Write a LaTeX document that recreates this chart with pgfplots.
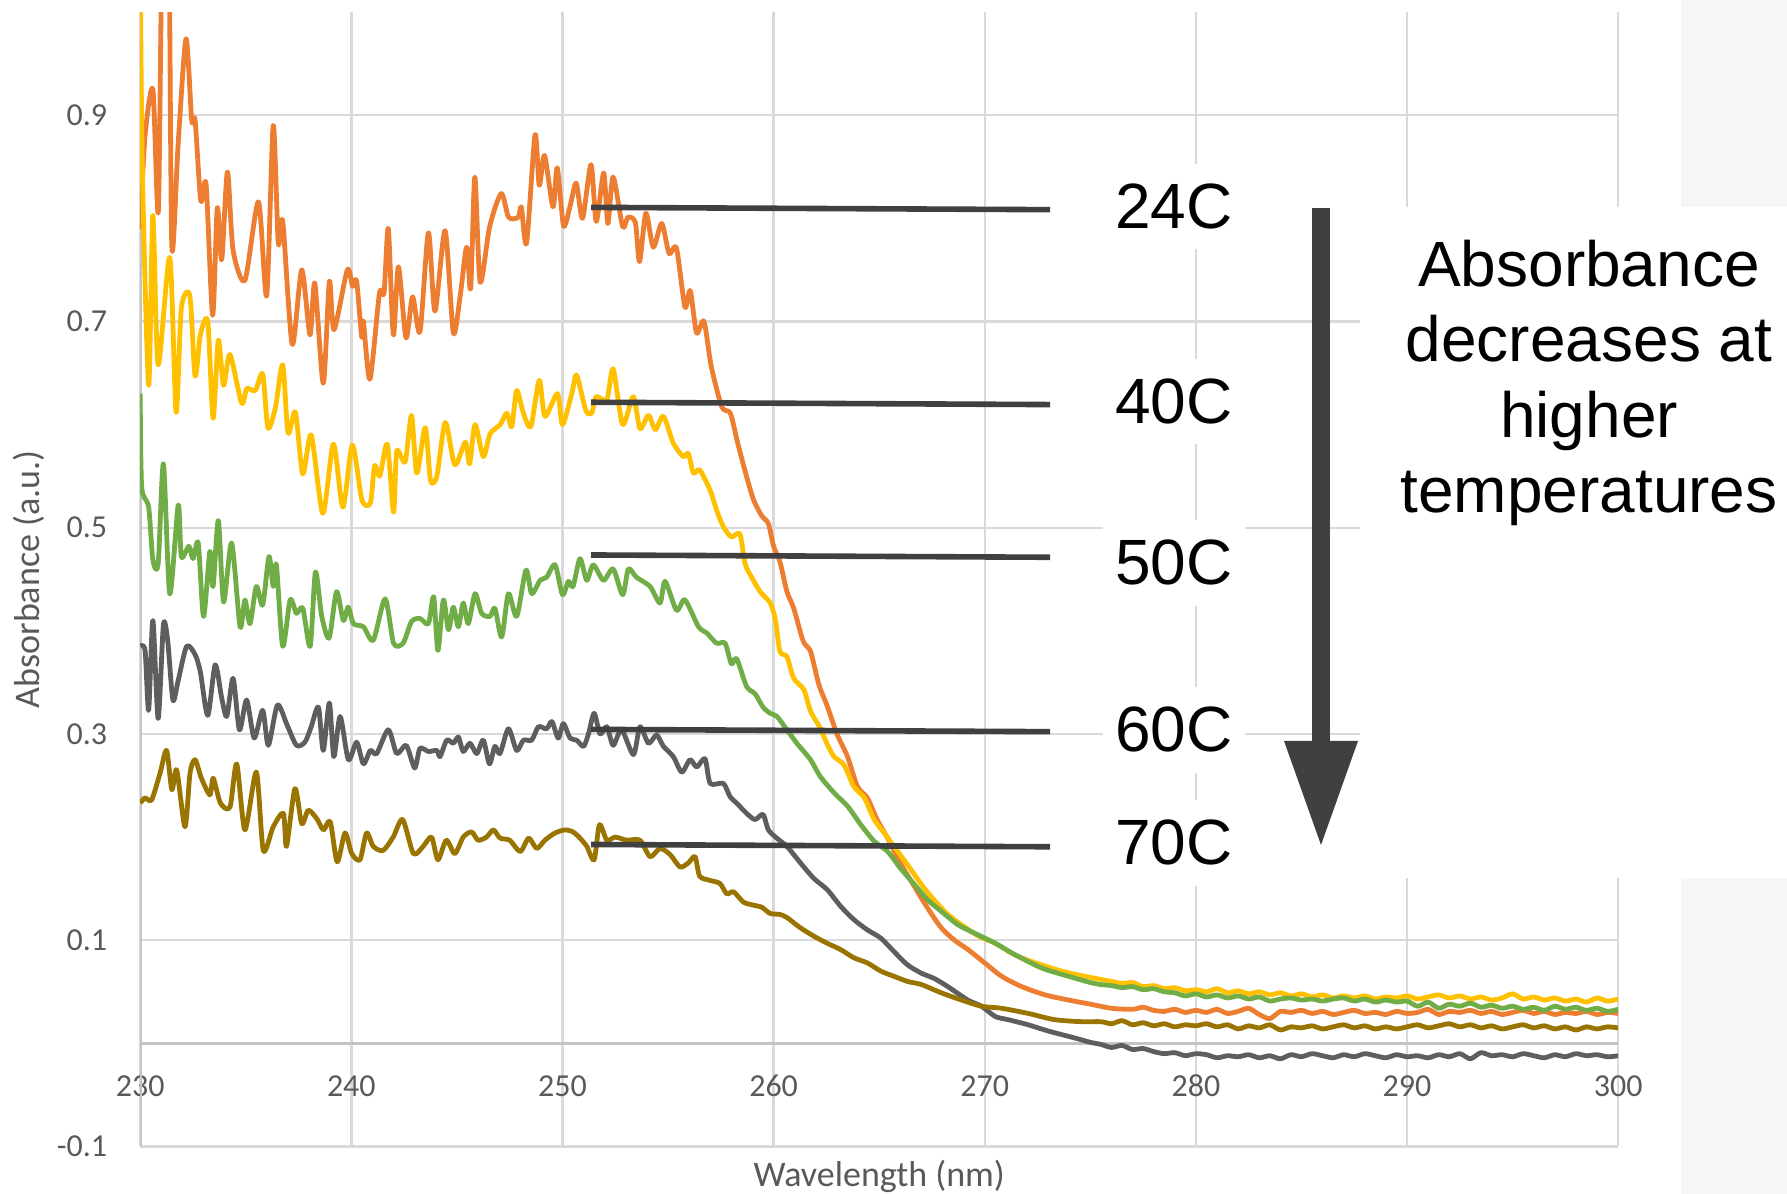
\documentclass[border=0pt]{standalone}
\usepackage{pgfplots}
\pgfplotsset{compat=1.18}
\usepackage{pgfplotstable}
\usepackage{fontspec}
\setmainfont{Liberation Sans}
\newfontfamily\carlito{Carlito}
\definecolor{cA}{HTML}{ED7D31}
\definecolor{cB}{HTML}{FFC000}
\definecolor{cC}{HTML}{70AD47}
\definecolor{cD}{HTML}{5E5E5E}
\definecolor{cE}{HTML}{9A7400}
\definecolor{gridc}{HTML}{D9D9D9}
\definecolor{axisc}{HTML}{C4C4C4}
\definecolor{labc}{HTML}{595959}
\definecolor{darkc}{HTML}{404040}
\definecolor{panel}{HTML}{F6F6F6}

\pgfplotstableread{
x y
230.0 0.79
230.23 0.88
230.6 0.925
230.86 0.807
231.05 1.08
231.35 1.08
231.5 0.772
231.8 0.873
232.17 0.974
232.44 0.895
232.6 0.895
232.87 0.817
233.12 0.833
233.43 0.706
233.65 0.81
233.86 0.76
234.13 0.845
234.4 0.769
234.96 0.74
235.6 0.816
235.99 0.725
236.3 0.89
236.54 0.776
236.75 0.797
237.2 0.678
237.65 0.75
238.04 0.687
238.27 0.737
238.67 0.64
238.96 0.739
239.18 0.692
239.81 0.75
240.06 0.734
240.25 0.739
240.49 0.685
240.57 0.70
240.88 0.644
241.33 0.727
241.55 0.728
241.75 0.79
241.99 0.687
242.23 0.753
242.59 0.684
242.9 0.724
243.25 0.69
243.65 0.786
243.96 0.71
244.44 0.788
244.83 0.689
245.15 0.724
245.46 0.772
245.65 0.732
245.85 0.84
246.1 0.738
246.55 0.792
247.1 0.824
247.45 0.801
247.9 0.801
248.05 0.811
248.3 0.776
248.7 0.881
248.9 0.832
249.15 0.861
249.55 0.811
249.75 0.849
250.05 0.793
250.35 0.811
250.65 0.834
250.95 0.80
251.35 0.852
251.6 0.797
251.95 0.844
252.15 0.795
252.4 0.84
252.85 0.792
253.1 0.801
253.45 0.796
253.65 0.758
253.95 0.805
254.3 0.772
254.7 0.795
255.05 0.766
255.4 0.771
255.8 0.714
256.05 0.73
256.35 0.689
256.7 0.70
257.05 0.656
257.55 0.617
257.95 0.611
258.3 0.582
258.7 0.551
259.05 0.527
259.45 0.511
259.75 0.504
260.0 0.482
260.3 0.467
260.63 0.438
260.95 0.422
261.4 0.39
261.75 0.38
262.14 0.348
262.54 0.327
263.0 0.30
263.5 0.278
263.97 0.249
264.44 0.238
264.9 0.217
265.4 0.199
266.0 0.175
266.67 0.152
267.3 0.131
267.94 0.112
268.57 0.10
269.2 0.091
270.0 0.078
270.8 0.065
271.75 0.055
272.86 0.047
273.97 0.042
275.0 0.038
276.0 0.034
277.0 0.033
277.5 0.035
278.0 0.032
278.5 0.031
279.0 0.033
279.5 0.030
280.0 0.032
280.5 0.030
281.0 0.033
281.5 0.029
282.0 0.031
282.5 0.034
283.0 0.028
283.5 0.024
284.0 0.031
284.5 0.030
285.0 0.032
285.5 0.029
286.0 0.031
286.5 0.028
287.0 0.030
287.5 0.032
288.0 0.029
288.5 0.030
289.0 0.028
289.5 0.031
290.0 0.029
290.5 0.030
291.0 0.033
291.5 0.028
292.0 0.031
292.5 0.030
293.0 0.032
293.5 0.029
294.0 0.031
294.5 0.028
295.0 0.030
295.5 0.032
296.0 0.029
296.5 0.031
297.0 0.028
297.5 0.030
298.0 0.029
298.5 0.031
299.0 0.028
299.5 0.030
300.0 0.029
}\tA

\pgfplotstableread{
x y
230.0 1.05
230.1 0.85
230.4 0.638
230.6 0.803
230.85 0.658
231.4 0.762
231.7 0.612
231.95 0.713
232.35 0.725
232.6 0.647
232.85 0.687
233.2 0.70
233.45 0.606
233.7 0.682
233.95 0.638
234.25 0.668
234.8 0.621
235.05 0.635
235.45 0.633
235.8 0.649
236.05 0.597
236.4 0.616
236.75 0.658
237.0 0.592
237.35 0.612
237.7 0.552
238.1 0.59
238.65 0.514
239.15 0.581
239.6 0.52
240.05 0.58
240.5 0.527
240.9 0.524
241.1 0.56
241.35 0.55
241.7 0.581
242.0 0.515
242.15 0.574
242.55 0.564
242.85 0.609
243.1 0.553
243.5 0.597
243.75 0.546
244.05 0.55
244.45 0.602
244.9 0.561
245.4 0.583
245.6 0.562
245.86 0.60
246.25 0.569
246.57 0.591
247.05 0.60
247.36 0.611
247.6 0.598
247.83 0.633
248.15 0.611
248.5 0.598
248.9 0.643
249.17 0.608
249.76 0.63
250.0 0.60
250.44 0.63
250.67 0.648
251.1 0.614
251.38 0.611
251.6 0.627
252.1 0.624
252.4 0.654
252.85 0.60
253.35 0.627
253.67 0.596
254.07 0.609
254.4 0.595
254.78 0.608
255.25 0.582
255.72 0.569
255.96 0.572
256.2 0.553
256.5 0.556
257.0 0.536
257.3 0.517
257.62 0.501
258.0 0.491
258.4 0.494
258.65 0.465
258.96 0.452
259.36 0.438
259.84 0.427
260.08 0.411
260.3 0.38
260.63 0.375
260.95 0.354
261.43 0.343
261.75 0.322
262.2 0.306
262.54 0.29
262.86 0.278
263.33 0.27
263.8 0.249
264.3 0.238
264.76 0.217
265.24 0.204
265.7 0.191
266.35 0.173
267.0 0.154
267.6 0.139
268.25 0.125
268.9 0.115
269.7 0.104
270.5 0.097
271.4 0.086
272.4 0.078
273.65 0.070
274.5 0.066
275.5 0.062
276.0 0.060
276.5 0.058
277.0 0.059
277.5 0.055
278.0 0.056
278.5 0.053
279.0 0.054
279.5 0.051
280.0 0.052
280.5 0.050
281.0 0.053
281.5 0.049
282.0 0.051
282.5 0.048
283.0 0.050
283.5 0.047
284.0 0.049
284.5 0.046
285.0 0.048
285.5 0.045
286.0 0.047
286.5 0.044
287.0 0.046
287.5 0.044
288.0 0.046
288.5 0.043
289.0 0.045
289.5 0.044
290.0 0.046
290.5 0.043
291.0 0.045
291.5 0.047
292.0 0.044
292.5 0.046
293.0 0.043
293.5 0.045
294.0 0.042
294.5 0.044
295.0 0.048
295.5 0.043
296.0 0.045
296.5 0.042
297.0 0.044
297.5 0.041
298.0 0.043
298.5 0.040
299.0 0.044
299.5 0.041
300.0 0.043
}\tB

\pgfplotstableread{
x y
230.0 0.63
230.07 0.54
230.4 0.52
230.6 0.469
230.85 0.465
231.1 0.562
231.4 0.436
231.8 0.522
231.95 0.472
232.3 0.482
232.5 0.47
232.75 0.485
233.0 0.414
233.3 0.477
233.45 0.443
233.7 0.507
233.95 0.428
234.33 0.485
234.73 0.404
234.96 0.43
235.2 0.407
235.5 0.443
235.8 0.425
236.1 0.472
236.3 0.443
236.45 0.464
236.75 0.385
237.1 0.43
237.4 0.417
237.7 0.422
238.05 0.385
238.3 0.457
238.6 0.414
238.95 0.393
239.3 0.438
239.62 0.41
239.85 0.423
240.1 0.407
240.57 0.404
241.04 0.391
241.6 0.431
242.0 0.388
242.45 0.388
242.85 0.409
243.25 0.412
243.65 0.407
243.9 0.433
244.1 0.381
244.36 0.43
244.6 0.401
244.83 0.423
245.07 0.404
245.3 0.427
245.54 0.407
245.86 0.436
246.17 0.417
246.57 0.414
246.8 0.422
247.12 0.394
247.44 0.436
247.83 0.414
248.27 0.459
248.54 0.436
248.94 0.449
249.25 0.452
249.65 0.464
250.0 0.435
250.28 0.448
250.5 0.443
250.83 0.47
251.15 0.449
251.46 0.464
251.94 0.449
252.4 0.46
252.85 0.435
253.12 0.46
253.5 0.452
254.15 0.443
254.62 0.427
254.86 0.448
255.4 0.42
255.8 0.43
256.44 0.404
256.83 0.398
257.3 0.388
257.7 0.388
258.0 0.368
258.25 0.373
258.72 0.346
259.12 0.339
259.5 0.326
259.84 0.32
260.16 0.317
260.63 0.304
261.1 0.291
261.75 0.275
262.2 0.259
262.86 0.243
263.5 0.23
264.13 0.212
264.76 0.196
265.4 0.186
266.0 0.17
266.67 0.154
267.3 0.139
267.94 0.128
268.73 0.115
269.5 0.107
270.5 0.097
271.43 0.086
272.7 0.073
273.97 0.065
275.0 0.059
275.5 0.057
276.0 0.056
276.5 0.054
277.0 0.055
277.5 0.052
278.0 0.053
278.5 0.050
279.0 0.049
279.5 0.046
280.0 0.048
280.5 0.045
281.0 0.047
281.5 0.044
282.0 0.046
282.5 0.043
283.0 0.045
283.5 0.041
284.0 0.043
284.5 0.044
285.0 0.042
285.5 0.043
286.0 0.041
286.5 0.043
287.0 0.044
287.5 0.041
288.0 0.043
288.5 0.040
289.0 0.042
289.5 0.040
290.0 0.041
290.5 0.036
291.0 0.040
291.5 0.034
292.0 0.038
292.5 0.036
293.0 0.039
293.5 0.035
294.0 0.037
294.5 0.034
295.0 0.036
295.5 0.033
296.0 0.035
296.5 0.032
297.0 0.036
297.5 0.033
298.0 0.035
298.5 0.032
299.0 0.034
299.5 0.031
300.0 0.033
}\tC

\pgfplotstableread{
x y
230.0 0.385
230.23 0.381
230.4 0.323
230.6 0.41
230.85 0.315
231.1 0.406
231.3 0.391
231.55 0.333
231.8 0.352
232.2 0.385
232.6 0.377
232.85 0.36
233.2 0.318
233.55 0.367
233.85 0.336
234.1 0.317
234.4 0.354
234.7 0.304
235.04 0.333
235.4 0.296
235.8 0.323
236.07 0.289
236.5 0.328
236.95 0.309
237.4 0.289
237.8 0.292
238.1 0.307
238.44 0.326
238.67 0.284
238.96 0.33
239.17 0.278
239.47 0.317
239.86 0.275
240.25 0.292
240.57 0.271
240.9 0.284
241.2 0.281
241.75 0.304
242.15 0.281
242.6 0.289
243.0 0.267
243.25 0.286
243.65 0.283
244.05 0.284
244.2 0.278
244.52 0.294
244.83 0.291
245.07 0.297
245.3 0.283
245.62 0.291
245.94 0.281
246.25 0.294
246.54 0.271
246.8 0.288
247.04 0.281
247.44 0.305
247.83 0.284
248.15 0.294
248.54 0.294
248.86 0.307
249.25 0.305
249.5 0.312
249.8 0.296
250.04 0.31
250.36 0.296
250.67 0.294
251.0 0.288
251.23 0.30
251.5 0.32
251.78 0.30
252.1 0.307
252.4 0.289
252.8 0.304
253.36 0.28
253.67 0.307
254.07 0.291
254.46 0.299
254.78 0.288
255.25 0.278
255.65 0.263
256.04 0.275
256.36 0.268
256.75 0.276
257.0 0.252
257.62 0.252
257.94 0.239
258.25 0.233
258.72 0.223
259.12 0.217
259.5 0.222
259.75 0.207
260.15 0.199
260.63 0.191
261.27 0.175
261.9 0.16
262.54 0.149
263.17 0.133
263.8 0.12
264.44 0.11
265.08 0.102
265.7 0.089
266.35 0.076
267.0 0.068
267.6 0.063
268.25 0.055
269.2 0.042
269.84 0.036
270.5 0.026
271.1 0.023
272.06 0.018
273.0 0.012
274.3 0.005
275.0 0.001
275.5 -0.001
276.0 -0.004
276.5 -0.002
277.0 -0.006
277.5 -0.005
278.0 -0.008
278.5 -0.010
279.0 -0.009
279.5 -0.012
280.0 -0.010
280.5 -0.011
281.0 -0.014
281.5 -0.012
282.0 -0.013
282.5 -0.011
283.0 -0.014
283.5 -0.012
284.0 -0.015
284.5 -0.011
285.0 -0.013
285.5 -0.010
286.0 -0.012
286.5 -0.014
287.0 -0.011
287.5 -0.013
288.0 -0.010
288.5 -0.012
289.0 -0.014
289.5 -0.011
290.0 -0.013
290.5 -0.012
291.0 -0.014
291.5 -0.011
292.0 -0.013
292.5 -0.010
293.0 -0.015
293.5 -0.009
294.0 -0.012
294.5 -0.011
295.0 -0.013
295.5 -0.010
296.0 -0.012
296.5 -0.014
297.0 -0.011
297.5 -0.013
298.0 -0.010
298.5 -0.012
299.0 -0.011
299.5 -0.013
300.0 -0.012
}\tD

\pgfplotstableread{
x y
230.0 0.233
230.23 0.238
230.54 0.236
230.94 0.262
231.25 0.284
231.5 0.246
231.73 0.265
232.12 0.21
232.36 0.262
232.6 0.275
232.9 0.257
233.3 0.241
233.46 0.257
233.8 0.233
234.25 0.229
234.57 0.271
234.96 0.207
235.5 0.263
235.83 0.187
236.3 0.21
236.78 0.223
236.93 0.191
237.33 0.247
237.65 0.213
237.96 0.226
238.36 0.218
238.68 0.207
239.0 0.215
239.33 0.176
239.7 0.204
240.02 0.184
240.41 0.178
240.72 0.204
241.04 0.191
241.5 0.187
241.98 0.20
242.43 0.217
242.94 0.184
243.4 0.191
243.8 0.20
244.1 0.178
244.5 0.197
244.9 0.184
245.3 0.20
245.7 0.205
246.0 0.197
246.4 0.20
246.73 0.207
247.04 0.199
247.5 0.197
248.0 0.186
248.4 0.199
248.78 0.189
249.17 0.197
249.65 0.204
250.12 0.207
250.5 0.205
250.83 0.199
251.15 0.191
251.5 0.178
251.75 0.212
252.1 0.197
252.5 0.20
253.04 0.197
253.67 0.197
254.15 0.181
254.62 0.189
255.1 0.183
255.57 0.171
255.96 0.175
256.28 0.181
256.5 0.162
257.0 0.158
257.46 0.155
257.78 0.145
258.1 0.147
258.57 0.137
259.04 0.134
259.44 0.132
259.83 0.126
260.3 0.125
260.63 0.122
261.27 0.112
261.9 0.104
262.54 0.097
263.17 0.091
263.8 0.083
264.44 0.078
265.08 0.070
265.7 0.065
266.35 0.060
267.0 0.057
267.94 0.049
268.9 0.042
269.84 0.036
270.8 0.034
272.06 0.029
273.3 0.023
274.6 0.021
275.5 0.021
276.0 0.019
276.5 0.022
277.0 0.018
277.5 0.020
278.0 0.017
278.5 0.019
279.0 0.016
279.5 0.018
280.0 0.017
280.5 0.019
281.0 0.016
281.5 0.018
282.0 0.014
282.5 0.017
283.0 0.015
283.5 0.018
284.0 0.013
284.5 0.016
285.0 0.015
285.5 0.017
286.0 0.014
286.5 0.016
287.0 0.018
287.5 0.015
288.0 0.017
288.5 0.014
289.0 0.016
289.5 0.014
290.0 0.016
290.5 0.018
291.0 0.015
291.5 0.017
292.0 0.019
292.5 0.016
293.0 0.018
293.5 0.015
294.0 0.017
294.5 0.014
295.0 0.016
295.5 0.018
296.0 0.015
296.5 0.017
297.0 0.014
297.5 0.016
298.0 0.013
298.5 0.016
299.0 0.014
299.5 0.016
300.0 0.015
}\tE

\begin{document}
\begin{tikzpicture}
\useasboundingbox (0,0) rectangle (446.75pt,298.5pt);
\fill[panel] (420.25pt,0pt) rectangle (446.75pt,298.5pt);
\begin{axis}[
  at={(35.05pt,11.875pt)}, anchor=south west,
  scale only axis, width=369.5pt, height=283.6pt,
  xmin=230, xmax=300, ymin=-0.1, ymax=1.0,
  xtick={230,240,250,260,270,280,290,300},
  xticklabels={230,240,250,260,270,280,290,300},
  ytick={-0.1,0.1,0.3,0.5,0.7,0.9},
  yticklabels={-0.1,0.1,0.3,0.5,0.7,0.9},
  grid=major,
  major grid style={draw=gridc, line width=0.6pt},
  axis line style={draw=none},
  major tick length=0pt,
  tick style={draw=none},
  xticklabel style={font=\carlito\fontsize{8}{9}\selectfont, text=labc, anchor=center, yshift=15.1pt},
  yticklabel style={font=\carlito\fontsize{8}{9}\selectfont, text=labc, xshift=-4.75pt},
  xlabel={Wavelength (nm)},
  ylabel={Absorbance (a.u.)},
  xlabel style={at={(axis description cs:0.5,-0.026)}, anchor=center, font=\carlito\fontsize{9}{10}\selectfont, text=labc},
  ylabel style={at={(axis description cs:-0.0756,0.5)}, anchor=center, font=\carlito\fontsize{9}{10}\selectfont, text=labc},
  every axis plot/.append style={line width=1.2pt, line join=round, mark=none, smooth, tension=0.45},
]
\draw[axisc, line width=0.7pt] (axis cs:230,-0.1) -- (axis cs:230,1.0);
\draw[axisc, line width=0.8pt] (axis cs:230,0) -- (axis cs:300,0);
\addplot[cA] table {\tA};
\addplot[cB] table {\tB};
\addplot[cC] table {\tC};
\addplot[cD] table {\tD};
\addplot[cE] table {\tE};
\end{axis}
\begin{scope}[x=0.25pt, y=-0.25pt, yshift=298.5pt]
  \fill[white] (1360,207) rectangle (1787,878);
  \fill[darkc] (1312,208.5) rectangle (1330,741);
  \fill[darkc] (1284,741) -- (1358,741) -- (1321,845) -- cycle;
  \draw[darkc, line width=1.4pt] (591,207.4) -- (1050,209.7);
  \draw[darkc, line width=1.4pt] (591,402.3) -- (1050,404.6);
  \draw[darkc, line width=1.4pt] (591,555.0) -- (1050,557.3);
  \draw[darkc, line width=1.4pt] (591,729.4) -- (1050,731.7);
  \draw[darkc, line width=1.4pt] (591,844.5) -- (1050,846.8);
  \tikzset{lab/.style={fill=white, inner xsep=3pt, inner ysep=5pt, anchor=base, font=\fontsize{16}{19}\selectfont, text=black}}
  \node[lab] at (1174,228.3) {24C};
  \node[lab] at (1174,423.3) {40C};
  \node[lab] at (1174,585.0) {50C};
  \node[lab] at (1174,752.0) {60C};
  \node[lab] at (1174,865.0) {70C};
  \tikzset{ann/.style={anchor=base, inner sep=0pt, font=\fontsize{16}{19}\selectfont, text=black}}
  \node[ann] at (1589,287.0) {Absorbance};
  \node[ann] at (1589,361.6) {decreases at};
  \node[ann] at (1589,438.0) {higher};
  \node[ann] at (1589,513.0) {temperatures};
\end{scope}
\end{tikzpicture}
\end{document}
